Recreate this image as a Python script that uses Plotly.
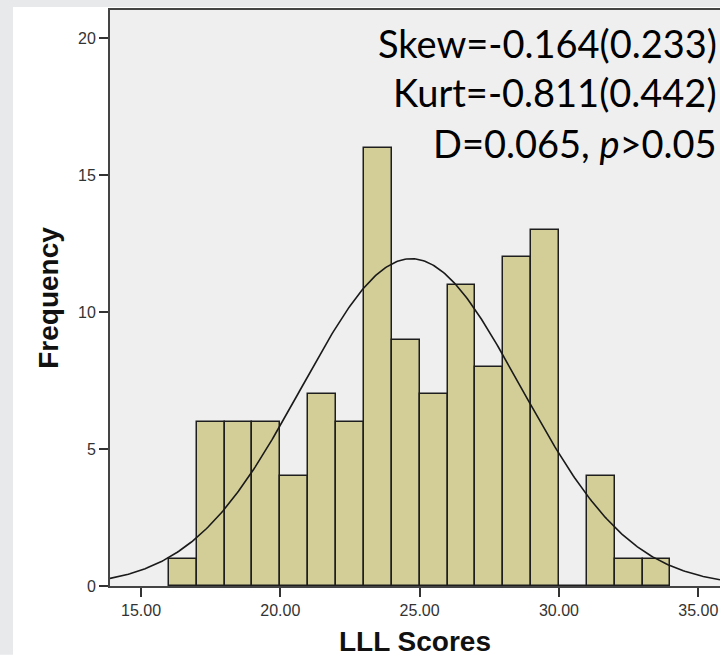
import numpy as np
import plotly.graph_objects as go

# ---- data ----
bin_starts = [16, 17, 18, 19, 20, 21, 22, 23, 24, 25, 26, 27, 28, 29, 30, 31, 32, 33]
counts = [1, 6, 6, 6, 4, 7, 6, 16, 9, 7, 11, 8, 12, 13, 0, 4, 1, 1]
bin_width = 1.0
curve_mean = 24.70
curve_sd = 3.94
x_tick_vals = [15, 20, 25, 30, 35]
x_tick_labels = ["15.00", "20.00", "25.00", "30.00", "35.00"]
y_tick_vals = [0, 5, 10, 15, 20]
stat_lines = ["Skew=-0.164(0.233)", "Kurt=-0.811(0.442)", "D=0.065, <i>p</i>>0.05"]
x_title = "LLL Scores"
y_title = "Frequency"

# ---- layout constants ----
W, H = 720, 657
ML, MR, MT, MB = 110, 0, 10, 69
x_range = [13.887, 35.78]
y_range = [0, 21.03]

n_total = sum(counts)
bin_centers = [s + bin_width / 2 for s in bin_starts]

xc = np.linspace(x_range[0], x_range[1], 400)
yc = n_total * bin_width / (curve_sd * np.sqrt(2 * np.pi)) * np.exp(-0.5 * ((xc - curve_mean) / curve_sd) ** 2)

fig = go.Figure()
fig.add_trace(go.Bar(
    x=bin_centers, y=counts, width=bin_width,
    marker=dict(color="#d3ce97", line=dict(color="#1e1e1e", width=1.5)),
    hoverinfo="x+y", showlegend=False,
))
fig.add_trace(go.Scatter(
    x=xc, y=yc, mode="lines",
    line=dict(color="#1a1a1a", width=1.6),
    hoverinfo="skip", showlegend=False,
))

pw = W - ML - MR
ph = H - MT - MB

# grey outer strips (left and top)
fig.add_shape(type="rect", xref="paper", yref="paper",
              x0=(0 - ML) / pw, x1=(13 - ML) / pw,
              y0=(H - MB - H) / ph, y1=(H - MB) / ph,
              fillcolor="#e7e9ea", line=dict(width=0), layer="below")
fig.add_shape(type="rect", xref="paper", yref="paper",
              x0=(0 - ML) / pw, x1=(W - ML) / pw,
              y0=(H - MB - 7) / ph, y1=(H - MB) / ph,
              fillcolor="#e7e9ea", line=dict(width=0), layer="below")

cap_centers_px = [42.7, 92.7, 143.3]
for txt, cy in zip(stat_lines, cap_centers_px):
    fig.add_annotation(
        xref="paper", yref="paper",
        x=(719 - ML) / pw, y=(H - MB - cy) / ph,
        xanchor="right", yanchor="middle",
        text=txt, showarrow=False,
        font=dict(family="Lato", size=38, color="#000000"),
    )

fig.update_layout(
    width=W, height=H,
    margin=dict(l=ML, r=MR, t=MT, b=MB, pad=0),
    paper_bgcolor="#ffffff",
    plot_bgcolor="#efefef",
    bargap=0,
    xaxis=dict(
        range=x_range, tickmode="array", tickvals=x_tick_vals, ticktext=x_tick_labels,
        ticks="outside", ticklen=9, tickwidth=1.5, tickcolor="#333333",
        showline=True, linecolor="#444444", linewidth=2, mirror=True,
        showgrid=False, zeroline=False,
        tickfont=dict(family="Liberation Sans, Arial", size=16, color="#333333"),
        title=dict(text=x_title, standoff=18,
                   font=dict(family="Liberation Sans, Arial", size=28, color="#111111", weight="bold")),
    ),
    yaxis=dict(
        range=y_range, tickmode="array", tickvals=y_tick_vals,
        ticks="outside", ticklen=9, tickwidth=1.5, tickcolor="#333333",
        showline=True, linecolor="#444444", linewidth=2, mirror=False,
        showgrid=False, zeroline=False,
        tickfont=dict(family="Liberation Sans, Arial", size=16, color="#333333"),
        title=dict(text=y_title, standoff=11,
                   font=dict(family="Liberation Sans, Arial", size=28, color="#111111", weight="bold")),
    ),
)

fig.write_html("out.html", config={"displayModeBar": False},
               post_script="document.body.style.margin='0';")
